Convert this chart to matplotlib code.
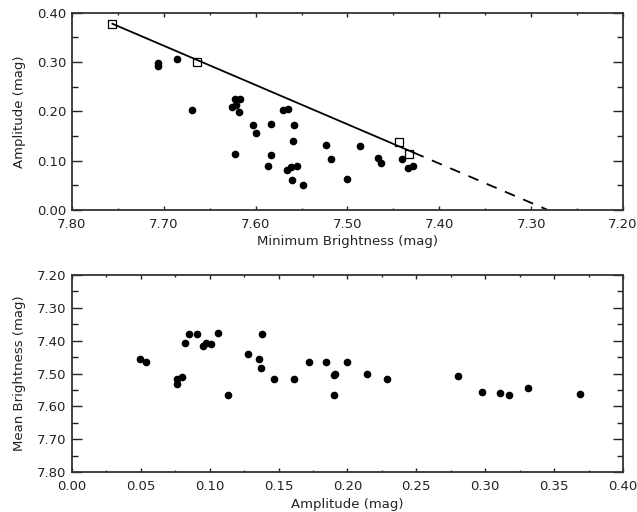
import matplotlib.pyplot as plt
from matplotlib.ticker import MultipleLocator, FormatStrFormatter
import numpy as np

# top panel: minimum brightness vs amplitude
min_bright = [7.706, 7.706, 7.686, 7.669, 7.623, 7.617, 7.621, 7.626, 7.618, 7.603,
              7.600, 7.583, 7.570, 7.565, 7.558, 7.559, 7.623, 7.583, 7.587, 7.566,
              7.561, 7.555, 7.560, 7.548, 7.523, 7.518, 7.500, 7.486, 7.467, 7.464,
              7.441, 7.434, 7.429]
amp_top = [0.299, 0.293, 0.306, 0.202, 0.226, 0.226, 0.213, 0.209, 0.198, 0.172,
           0.156, 0.174, 0.202, 0.205, 0.173, 0.139, 0.114, 0.112, 0.0885, 0.080,
           0.0865, 0.090, 0.060, 0.051, 0.131, 0.103, 0.062, 0.130, 0.106, 0.095,
           0.103, 0.0845, 0.0885]
sq_bright = [7.756, 7.664, 7.444, 7.433]
sq_amp = [0.378, 0.300, 0.1385, 0.1135]
# fitted envelope: amp = slope * (bright - zero_point)
slope = 0.797
zero_point = 7.282
solid_range = [7.756, 7.428]
dash_range = [7.428, 7.282]

# bottom panel: amplitude vs mean brightness
amp_bot = [0.0497, 0.054, 0.0759, 0.0759, 0.080, 0.082, 0.085, 0.091, 0.095, 0.097,
           0.101, 0.106, 0.113, 0.128, 0.136, 0.137, 0.138, 0.147, 0.161, 0.172,
           0.1845, 0.1905, 0.191, 0.190, 0.1995, 0.214, 0.229, 0.280, 0.298, 0.311,
           0.317, 0.331, 0.369]
mean_bright = [7.455, 7.465, 7.517, 7.531, 7.511, 7.407, 7.379, 7.379, 7.416, 7.406,
               7.411, 7.377, 7.566, 7.442, 7.455, 7.484, 7.379, 7.517, 7.516, 7.465,
               7.465, 7.506, 7.500, 7.564, 7.466, 7.503, 7.516, 7.507, 7.557, 7.560,
               7.566, 7.543, 7.562]

plt.rcParams['font.family'] = 'DejaVu Sans'
fig = plt.figure(figsize=(6.37, 5.12), dpi=100)
ax1 = fig.add_axes([0.113, 0.590, 0.865, 0.385])
ax2 = fig.add_axes([0.113, 0.078, 0.865, 0.385])

def style(ax):
    for s in ax.spines.values():
        s.set_color('#333333')
        s.set_linewidth(1.3)
    ax.tick_params(which='both', direction='in', top=True, right=True,
                   labelsize=9.5, labelcolor='#222222', color='#222222')
    # IDL-style tick lengths: short on x, long on y
    ax.tick_params(axis='x', which='major', length=3, width=1, pad=6)
    ax.tick_params(axis='x', which='minor', length=1.6, width=1)
    ax.tick_params(axis='y', which='major', length=7.5, width=1, pad=4)
    ax.tick_params(axis='y', which='minor', length=4, width=1)

ax1.plot(min_bright, amp_top, 'o', color='black', ms=4.5)
ax1.plot(sq_bright, sq_amp, 's', mfc='white', mec='black', ms=5.5, mew=0.9)
xs = np.array(solid_range)
ax1.plot(xs, slope * (xs - zero_point), '-', color='black', lw=1.3)
xd = np.array(dash_range)
ax1.plot(xd, slope * (xd - zero_point), '--', color='black', lw=1.3, dashes=(6, 5))
ax1.set_xlim(7.80, 7.20)
ax1.set_ylim(0.0, 0.40)
ax1.xaxis.set_major_locator(MultipleLocator(0.1))
ax1.xaxis.set_minor_locator(MultipleLocator(0.05))
ax1.yaxis.set_major_locator(MultipleLocator(0.1))
ax1.yaxis.set_minor_locator(MultipleLocator(0.05))
ax1.xaxis.set_major_formatter(FormatStrFormatter('%.2f'))
ax1.yaxis.set_major_formatter(FormatStrFormatter('%.2f'))
ax1.set_xlabel('Minimum Brightness (mag)', fontsize=9.5, labelpad=3, color='#222222')
ax1.set_ylabel('Amplitude (mag)', fontsize=9.5, labelpad=8, color='#222222')
style(ax1)

ax2.plot(amp_bot, mean_bright, 'o', color='black', ms=4.5)
ax2.set_xlim(0.0, 0.40)
ax2.set_ylim(7.80, 7.20)
ax2.xaxis.set_major_locator(MultipleLocator(0.05))
ax2.xaxis.set_minor_locator(MultipleLocator(0.025))
ax2.yaxis.set_major_locator(MultipleLocator(0.1))
ax2.yaxis.set_minor_locator(MultipleLocator(0.05))
ax2.xaxis.set_major_formatter(FormatStrFormatter('%.2f'))
ax2.yaxis.set_major_formatter(FormatStrFormatter('%.2f'))
ax2.set_xlabel('Amplitude (mag)', fontsize=9.5, labelpad=3, color='#222222')
ax2.set_ylabel('Mean Brightness (mag)', fontsize=9.5, labelpad=8, color='#222222')
style(ax2)

plt.savefig('out.png', dpi=100)
